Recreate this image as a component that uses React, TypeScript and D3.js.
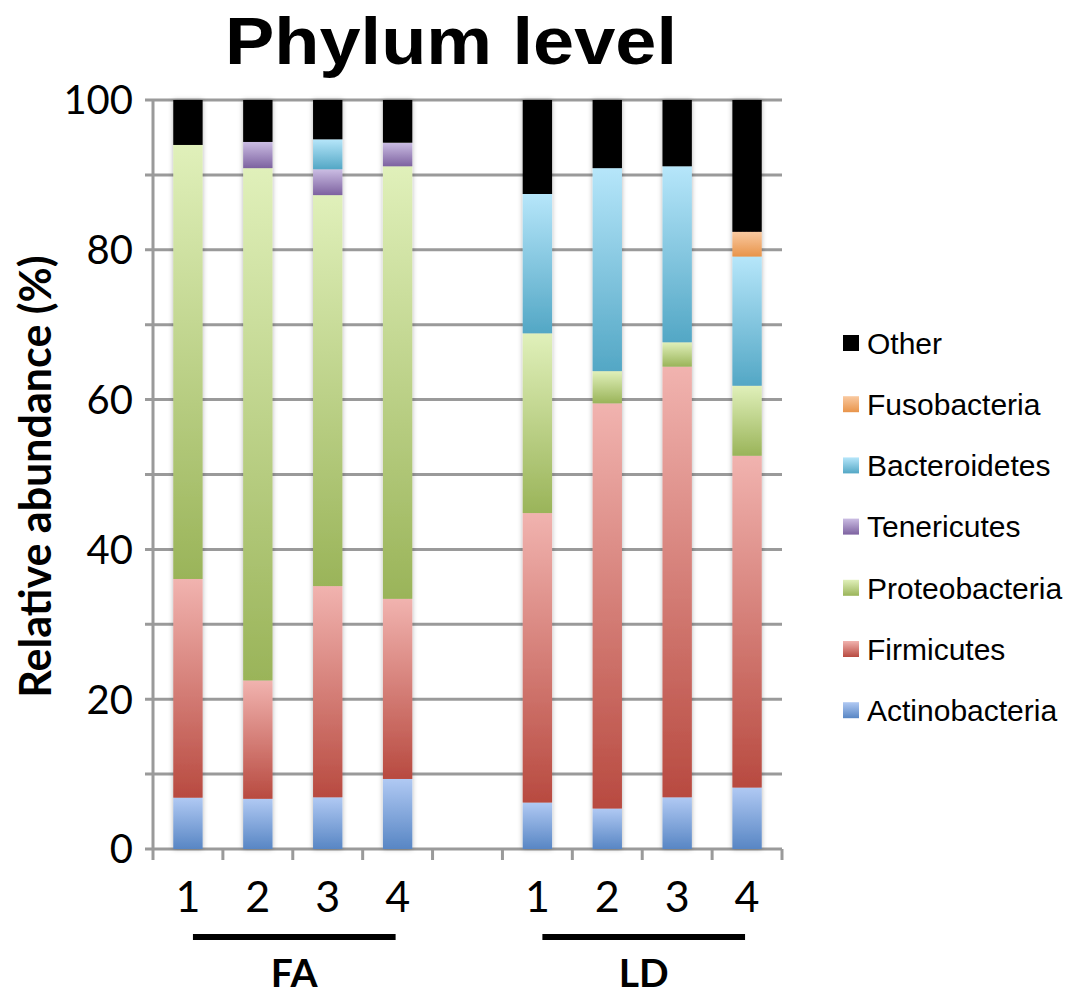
import React from "react";
import * as d3 from "d3";

// Samples along the x axis; the empty slot separates the two groups.
const slots = ["FA-1", "FA-2", "FA-3", "FA-4", "gap", "LD-1", "LD-2", "LD-3", "LD-4"];
const samples = ["FA-1", "FA-2", "FA-3", "FA-4", "LD-1", "LD-2", "LD-3", "LD-4"];
const sampleLabels = ["1", "2", "3", "4", "1", "2", "3", "4"];
const groups = ["FA", "LD"];

// Phyla, bottom of the stack first.
const phyla = ["Actinobacteria", "Firmicutes", "Proteobacteria", "Tenericutes", "Bacteroidetes", "Fusobacteria", "Other"];

// Relative abundance (%) per sample, in the order of `samples`.
const actinobacteria = [6.85, 6.7, 6.9, 9.35, 6.2, 5.4, 6.9, 8.2];
const firmicutes = [29.2, 15.8, 28.2, 24.05, 38.65, 54.1, 57.5, 44.3];
const proteobacteria = [57.95, 68.4, 52.2, 57.75, 24.0, 4.3, 3.25, 9.35];
const tenericutes = [0, 3.5, 3.45, 3.15, 0, 0, 0, 0];
const bacteroidetes = [0, 0, 4.0, 0, 18.6, 27.1, 23.5, 17.25];
const fusobacteria = [0, 0, 0, 0, 0, 0, 0, 3.3];
const other = [6.0, 5.6, 5.25, 5.7, 12.55, 9.1, 8.85, 17.6];

const yTicks = [0, 20, 40, 60, 80, 100];

const seriesValues: Record<string, number[]> = {
  Actinobacteria: actinobacteria,
  Firmicutes: firmicutes,
  Proteobacteria: proteobacteria,
  Tenericutes: tenericutes,
  Bacteroidetes: bacteroidetes,
  Fusobacteria: fusobacteria,
  Other: other,
};

// Vertical gradient stops (top, bottom) for each phylum.
const gradients: Record<string, [string, string]> = {
  Actinobacteria: ["#b0c9f3", "#5886c4"],
  Firmicutes: ["#f1b3af", "#b84a40"],
  Proteobacteria: ["#e0f0ba", "#9ab459"],
  Tenericutes: ["#cbbde3", "#7d62a0"],
  Bacteroidetes: ["#b6e6fa", "#53a7c5"],
  Fusobacteria: ["#f9c9a0", "#e8944a"],
  Other: ["#000000", "#000000"],
};

const W = 1079;
const H = 995;
const plot = { left: 153, right: 782, top: 100, bottom: 849 };

export default function App() {
  const rows = samples.map((s, i) => {
    const r: Record<string, number | string> = { sample: s };
    phyla.forEach((p) => (r[p] = seriesValues[p][i]));
    return r;
  });
  const stacked = d3.stack<Record<string, number | string>>().keys(phyla)(rows as any);

  const x = d3.scaleBand<string>().domain(slots).range([plot.left, plot.right]).padding(0);
  const y = d3.scaleLinear().domain([0, 100]).range([plot.bottom, plot.top]);
  const step = x.step();
  const barW = step * 0.42;
  const cx = (s: string) => (x(s) as number) + step / 2;

  const gridVals = d3.range(0, 101, 10);
  const tickXs = slots.map((s) => x(s) as number).concat([plot.right]);

  const legendRows = [...phyla].reverse();

  const groupSpans = groups.map((g) => {
    const members = samples.filter((s) => s.startsWith(g));
    return { g, x0: cx(members[0]) + 5, x1: cx(members[members.length - 1]) - 2 };
  });

  return (
    <svg width={W} height={H} style={{ position: "absolute", left: 0, top: 0, background: "#fff" }}>
      <defs>
        {phyla.map((p) => (
          <linearGradient key={p} id={`grad-${p}`} x1="0" y1="0" x2="0" y2="1">
            <stop offset="0" stopColor={gradients[p][0]} />
            <stop offset="1" stopColor={gradients[p][1]} />
          </linearGradient>
        ))}
        <filter id="barShadow" x="-40%" y="-5%" width="180%" height="110%">
          <feDropShadow dx="0" dy="0" stdDeviation="2.5" floodColor="#000" floodOpacity="0.3" />
        </filter>
      </defs>

      {/* title */}
      <text
        x={451}
        y={64}
        textAnchor="middle"
        fontFamily="'Liberation Sans', Arial, sans-serif"
        fontWeight="bold"
        fontSize={67}
        textLength={452}
        lengthAdjust="spacingAndGlyphs"
      >
        Phylum level
      </text>

      {/* gridlines */}
      {gridVals.map((v) => (
        <line key={v} x1={plot.left - 8} x2={plot.right} y1={y(v)} y2={y(v)} stroke="#9a9a9a" strokeWidth={3} />
      ))}
      {/* y axis */}
      <line x1={plot.left} x2={plot.left} y1={plot.top} y2={plot.bottom} stroke="#9a9a9a" strokeWidth={3} />
      {/* x axis ticks */}
      {tickXs.map((t, i) => (
        <line key={i} x1={t} x2={t} y1={plot.bottom} y2={plot.bottom + 11} stroke="#9a9a9a" strokeWidth={3} />
      ))}

      {/* stacked bars */}
      {samples.map((s, i) => (
        <g key={s} filter="url(#barShadow)">
          {stacked.map((layer) => {
            const d = layer[i];
            const h = y(d[0]) - y(d[1]);
            if (h <= 0.01) return null;
            return (
              <rect
                key={layer.key}
                x={cx(s) - barW / 2}
                y={y(d[1])}
                width={barW}
                height={h}
                fill={`url(#grad-${layer.key})`}
              />
            );
          })}
        </g>
      ))}

      {/* y tick labels */}
      {yTicks.map((v) => (
        <text key={v} x={133} y={y(v)} dy="0.36em" textAnchor="end" fontFamily="Lato, sans-serif" fontSize={40}>
          {v}
        </text>
      ))}

      {/* y axis title */}
      <text
        transform={`translate(51,${(plot.top + plot.bottom) / 2 + 2}) rotate(-90)`}
        textAnchor="middle"
        fontFamily="Lato, sans-serif"
        fontWeight="bold"
        fontSize={43}
      >
        Relative abundance (%)
      </text>

      {/* sample labels */}
      {samples.map((s, i) => (
        <text key={s} x={cx(s)} y={912} textAnchor="middle" fontFamily="Lato, sans-serif" fontSize={43}>
          {sampleLabels[i]}
        </text>
      ))}

      {/* group brackets */}
      {groupSpans.map(({ g, x0, x1 }) => (
        <g key={g}>
          <line x1={x0} x2={x1} y1={937} y2={937} stroke="#000" strokeWidth={6} />
          <text x={(x0 + x1) / 2} y={987} textAnchor="middle" fontFamily="Lato, sans-serif" fontWeight="bold" fontSize={39}>
            {g}
          </text>
        </g>
      ))}

      {/* legend */}
      {legendRows.map((p, i) => {
        const ly = 343 + i * 61.2;
        return (
          <g key={p}>
            <rect x={843} y={ly - 8} width={16} height={16} fill={`url(#grad-${p})`} />
            <text x={867} y={ly} dy="0.36em" fontFamily="'Liberation Sans', Arial, sans-serif" fontSize={30}>
              {p}
            </text>
          </g>
        );
      })}
    </svg>
  );
}
